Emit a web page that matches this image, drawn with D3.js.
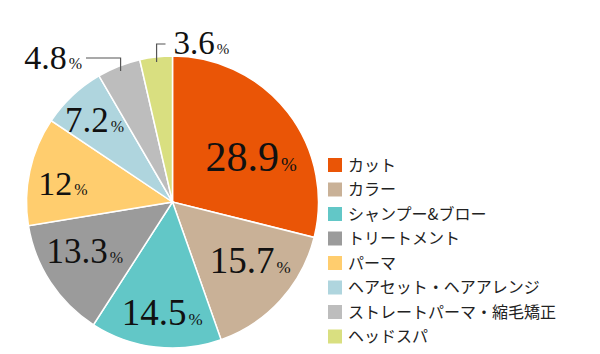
<!DOCTYPE html>
<html>
<head>
<meta charset="UTF-8">
<title></title>
<style>
  body { margin: 0; background: #fff; }
  .num { font-family: "Liberation Serif", "DejaVu Serif", serif; fill: #111; }
  .legend text { font-family: "Noto Sans CJK JP", sans-serif; font-size: 16px; fill: #222; }
</style>
</head>
<body>
<script src="https://cdn.jsdelivr.net/npm/d3@7/dist/d3.min.js"></script>
<script>
// データ
var categories = ["カット", "カラー", "シャンプー&ブロー", "トリートメント", "パーマ",
                  "ヘアセット・ヘアアレンジ", "ストレートパーマ・縮毛矯正", "ヘッドスパ"];
var values = [28.9, 15.7, 14.5, 13.3, 12, 7.2, 4.8, 3.6];
var valueLabels = ["28.9", "15.7", "14.5", "13.3", "12", "7.2", "4.8", "3.6"];

var colors = ["#ea5506", "#c9b197", "#62c7c7", "#9b9b9b", "#ffcd6e", "#afd5de", "#bdbdbd", "#d9df80"];

var width = 600, height = 354;
var cx = 172.5, cy = 202, radius = 146;

var svg = d3.select("body").append("svg")
  .attr("width", width)
  .attr("height", height);

var pie = d3.pie().sort(null).value(function(d) { return d; });
var arcs = pie(values);

var arc = d3.arc().innerRadius(0).outerRadius(radius);
var labelArc = d3.arc().innerRadius(105).outerRadius(105);
var edgeArc = d3.arc().innerRadius(141).outerRadius(141);

var g = svg.append("g").attr("transform", "translate(" + cx + "," + cy + ")");

g.selectAll("path")
  .data(arcs)
  .enter()
  .append("path")
  .attr("d", arc)
  .attr("fill", function(d, i) { return colors[i]; })
  .attr("stroke", "#fff")
  .attr("stroke-width", 1.5);

// ラベル（内側）の微調整と文字サイズ
var nudge = [[-4, 19], [0, -12], [2, 6], [0, -9], [-7, 4], [-6, -5]];
var fontSizes = [42, 37, 37, 35, 34, 35, 34, 33];

var inner = g.selectAll(".inLabel")
  .data(arcs.slice(0, 6))
  .enter()
  .append("text")
  .attr("class", "num")
  .attr("text-anchor", "middle")
  .attr("transform", function(d, i) {
    var c = labelArc.centroid(d);
    return "translate(" + (c[0] + nudge[i][0]) + "," + (c[1] + nudge[i][1]) + ")";
  })
  .attr("dy", function(d, i) { return fontSizes[i] * 0.34; });

inner.append("tspan")
  .style("font-size", function(d, i) { return fontSizes[i] + "px"; })
  .text(function(d, i) { return valueLabels[i]; });
inner.append("tspan")
  .attr("dx", 2)
  .style("font-size", function(d, i) { return Math.round(fontSizes[i] * 0.46) + "px"; })
  .text("%");

// 外側ラベル（引き出し線つき）
var outer = arcs.slice(6);
var leaderY = [-144, -158];
var leaderX = [-86.5, -7];

outer.forEach(function(d, k) {
  var i = k + 6;
  var p = edgeArc.centroid(d);
  var ly = leaderY[k], lx = leaderX[k];
  g.append("path")
    .attr("d", d3.line()([p, [p[0], ly], [lx, ly]]))
    .attr("fill", "none")
    .attr("stroke", "#555")
    .attr("stroke-width", 1.2);
  var t = g.append("text")
    .attr("class", "num")
    .attr("text-anchor", k === 0 ? "end" : "start")
    .attr("x", k === 0 ? lx - 4 : lx + 8)
    .attr("y", ly + fontSizes[i] * 0.34 - 1);
  t.append("tspan").style("font-size", fontSizes[i] + "px").text(valueLabels[i]);
  t.append("tspan").attr("dx", 2).style("font-size", Math.round(fontSizes[i] * 0.46) + "px").text("%");
});

// 凡例
var legendY = d3.scalePoint()
  .domain(categories)
  .range([165, 336.5]);

var legend = svg.append("g").attr("class", "legend");
var rows = legend.selectAll("g")
  .data(categories)
  .enter()
  .append("g")
  .attr("transform", function(d) { return "translate(328," + legendY(d) + ")"; });

rows.append("rect")
  .attr("x", 0)
  .attr("y", -7)
  .attr("width", 14)
  .attr("height", 14)
  .attr("fill", function(d, i) { return colors[i]; });

rows.append("text")
  .attr("x", 20)
  .attr("y", 0)
  .attr("dy", "0.36em")
  .text(function(d) { return d; });
</script>
</body>
</html>
